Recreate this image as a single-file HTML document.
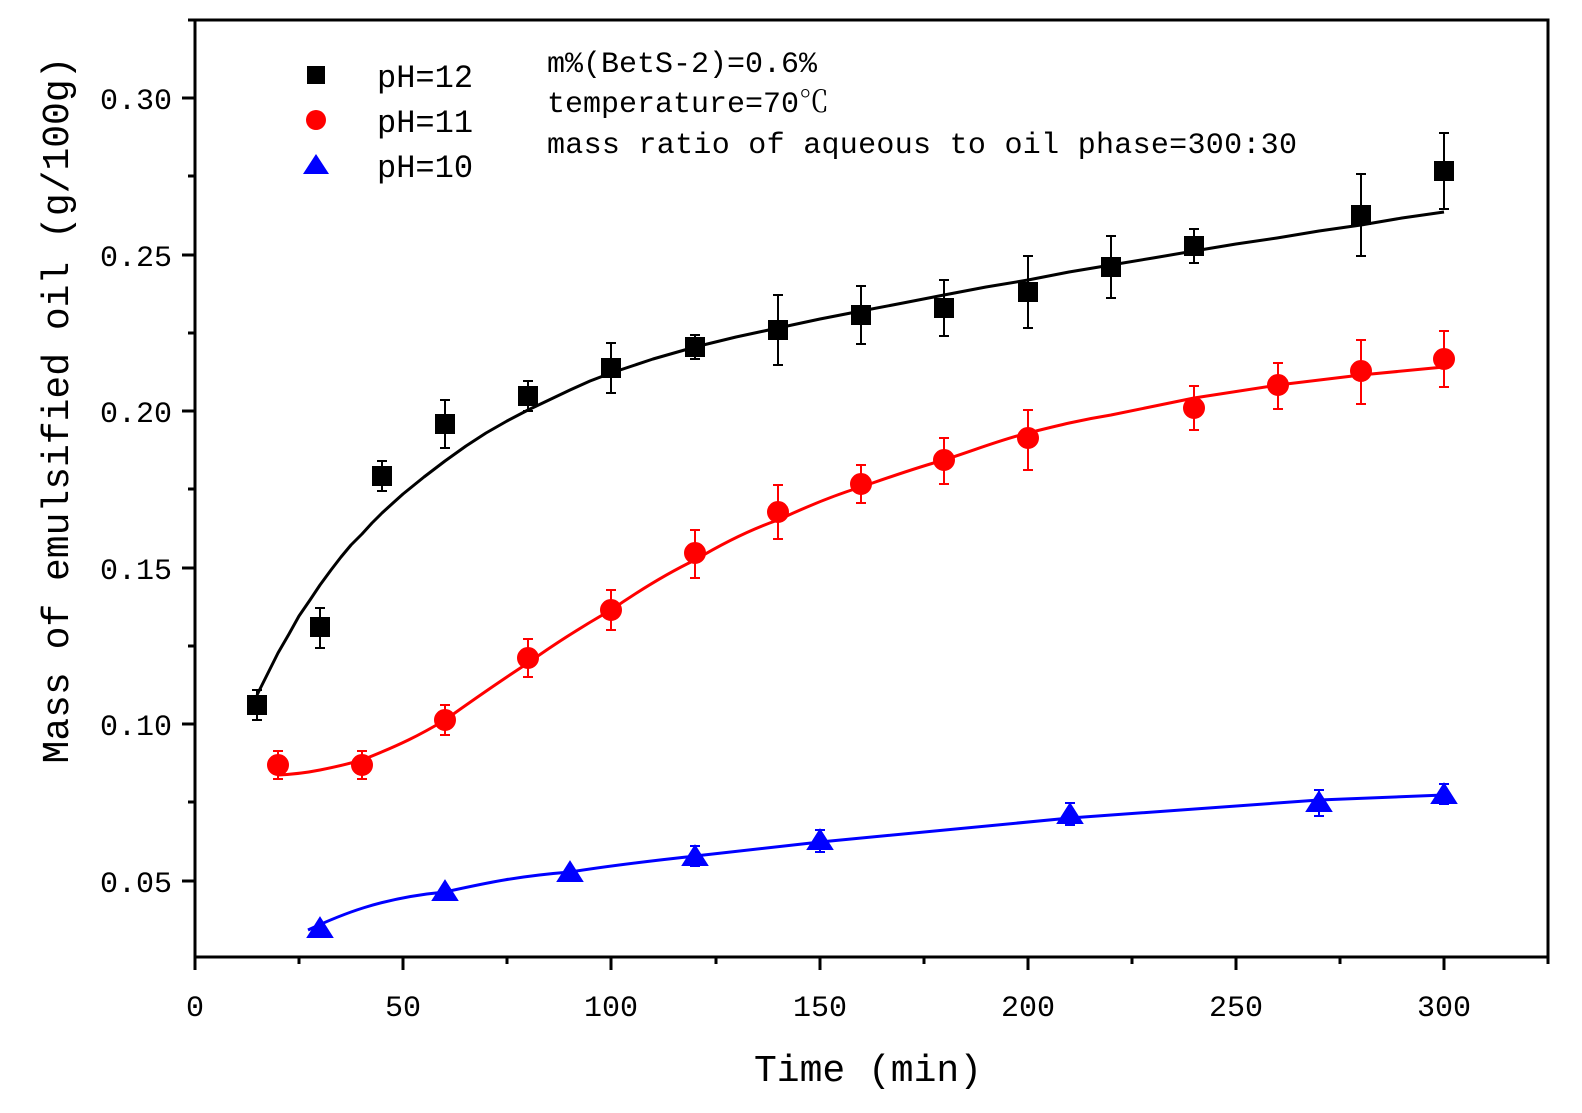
<!DOCTYPE html>
<html><head><meta charset="utf-8"><style>
html,body{margin:0;padding:0;background:#fff;}
svg{display:block;}
text{font-family:"Liberation Mono","Noto Serif CJK SC",monospace;fill:#000;}
</style></head><body>
<svg width="1582" height="1113" viewBox="0 0 1582 1113" xmlns="http://www.w3.org/2000/svg">
<rect x="195" y="20" width="1353" height="937" fill="none" stroke="#000" stroke-width="3"/>
<g stroke="#000" stroke-width="3">
<line x1="195" y1="957" x2="195" y2="970"/><line x1="403" y1="957" x2="403" y2="970"/><line x1="611" y1="957" x2="611" y2="970"/><line x1="820" y1="957" x2="820" y2="970"/><line x1="1028" y1="957" x2="1028" y2="970"/><line x1="1236" y1="957" x2="1236" y2="970"/><line x1="1444" y1="957" x2="1444" y2="970"/>
<line x1="299" y1="957" x2="299" y2="964"/><line x1="507" y1="957" x2="507" y2="964"/><line x1="716" y1="957" x2="716" y2="964"/><line x1="924" y1="957" x2="924" y2="964"/><line x1="1132" y1="957" x2="1132" y2="964"/><line x1="1340" y1="957" x2="1340" y2="964"/><line x1="1548" y1="957" x2="1548" y2="964"/>
<line x1="182" y1="98" x2="195" y2="98"/><line x1="182" y1="255" x2="195" y2="255"/><line x1="182" y1="411" x2="195" y2="411"/><line x1="182" y1="568" x2="195" y2="568"/><line x1="182" y1="724" x2="195" y2="724"/><line x1="182" y1="881" x2="195" y2="881"/>
<line x1="188" y1="20" x2="195" y2="20"/><line x1="188" y1="176" x2="195" y2="176"/><line x1="188" y1="333" x2="195" y2="333"/><line x1="188" y1="489" x2="195" y2="489"/><line x1="188" y1="646" x2="195" y2="646"/><line x1="188" y1="802" x2="195" y2="802"/>
</g>
<g font-size="30" text-anchor="middle">
<text x="195" y="1016">0</text><text x="403" y="1016">50</text><text x="611" y="1016">100</text><text x="820" y="1016">150</text><text x="1028" y="1016">200</text><text x="1236" y="1016">250</text><text x="1444" y="1016">300</text>
</g>
<g font-size="30" text-anchor="end">
<text x="172" y="109">0.30</text><text x="172" y="266">0.25</text><text x="172" y="422">0.20</text><text x="172" y="579">0.15</text><text x="172" y="735">0.10</text><text x="172" y="892">0.05</text>
</g>
<text x="868" y="1081" font-size="38" text-anchor="middle">Time (min)</text>
<text transform="translate(68,410) rotate(-90)" font-size="38" text-anchor="middle">Mass of emulsified oil (g/100g)</text>
<rect x="307" y="66" width="18" height="18" fill="#000"/>
<circle cx="316" cy="120" r="10" fill="#f00"/>
<polygon points="316,154 329,174 303,174" fill="#00f"/>
<g font-size="32"><text x="377" y="87">pH=12</text><text x="377" y="132">pH=11</text><text x="377" y="177">pH=10</text></g>
<g font-size="30"><text x="547" y="72">m%(BetS-2)=0.6%</text><text x="547" y="112">temperature=70℃</text><text x="547" y="153" textLength="750">mass ratio of aqueous to oil phase=300:30</text></g>
<polyline points="257,695 268,673 278,653 289,634 299,616 310,600 320,585 331,570 341,557 351,545 362,534 372,523 382,513 393,503 403,494 424,477 445,461 466,446 486,433 507,421 528,410 549,400 570,390 590,381 611,373 653,359 695,347 736,337 778,328 820,319 861,311 903,303 944,295 986,287 1028,280 1069,272 1111,265 1153,258 1194,251 1236,244 1277,238 1319,231 1361,225 1402,218 1444,212" fill="none" stroke="#000" stroke-width="3" stroke-linejoin="round"/>
<path d="M278,775 C300,774 315,771 320,770 C340,766 355,762 362,760 C400,745 420,735 445,720 C480,695 505,678 528,663 C560,640 590,622 611,610 C640,590 670,572 695,560 C725,542 755,528 778,520 C810,505 835,495 861,487 C890,477 915,468 944,460 C975,450 1000,440 1028,433 C1060,425 1080,420 1111,415 L1194,398 L1278,385 L1361,375 L1444,367" fill="none" stroke="#f00" stroke-width="3"/>
<path d="M308,930 C340,915 380,898 445,892 C490,882 520,876 570,872 C620,864 660,860 695,856 L820,842 L1070,818 L1319,800 L1444,795" fill="none" stroke="#00f" stroke-width="3"/>
<g stroke="#000" stroke-width="2" fill="#000">
<path d="M257,690V720M252,690h10M252,720h10M320,608V648M315,608h10M315,648h10M382,461V491M377,461h10M377,491h10M445,400V448M440,400h10M440,448h10M528,381V411M523,381h10M523,411h10M611,343V393M606,343h10M606,393h10M695,335V359M690,335h10M690,359h10M778,295V365M773,295h10M773,365h10M861,286V344M856,286h10M856,344h10M944,280V336M939,280h10M939,336h10M1028,256V328M1023,256h10M1023,328h10M1111,236V298M1106,236h10M1106,298h10M1194,229V263M1189,229h10M1189,263h10M1361,174V256M1356,174h10M1356,256h10M1444,133V209M1439,133h10M1439,209h10" fill="none"/>
<rect x="248" y="696" width="18" height="18"/><rect x="311" y="618" width="18" height="18"/><rect x="373" y="467" width="18" height="18"/><rect x="436" y="415" width="18" height="18"/><rect x="519" y="387" width="18" height="18"/><rect x="602" y="359" width="18" height="18"/><rect x="686" y="338" width="18" height="18"/><rect x="769" y="321" width="18" height="18"/><rect x="852" y="306" width="18" height="18"/><rect x="935" y="299" width="18" height="18"/><rect x="1019" y="283" width="18" height="18"/><rect x="1102" y="258" width="18" height="18"/><rect x="1185" y="237" width="18" height="18"/><rect x="1352" y="206" width="18" height="18"/><rect x="1435" y="162" width="18" height="18"/>
</g>
<g stroke="#f00" stroke-width="2" fill="#f00">
<path d="M278,751V779M273,751h10M273,779h10M362,751V779M357,751h10M357,779h10M445,705V735M440,705h10M440,735h10M528,639V677M523,639h10M523,677h10M611,590V630M606,590h10M606,630h10M695,530V578M690,530h10M690,578h10M778,485V539M773,485h10M773,539h10M861,465V503M856,465h10M856,503h10M944,438V484M939,438h10M939,484h10M1028,410V470M1023,410h10M1023,470h10M1194,386V430M1189,386h10M1189,430h10M1278,363V409M1273,363h10M1273,409h10M1361,340V404M1356,340h10M1356,404h10M1444,331V387M1439,331h10M1439,387h10" fill="none"/>
<circle cx="278" cy="765" r="10"/><circle cx="362" cy="765" r="10"/><circle cx="445" cy="720" r="10"/><circle cx="528" cy="658" r="10"/><circle cx="611" cy="610" r="10"/><circle cx="695" cy="553" r="10"/><circle cx="778" cy="512" r="10"/><circle cx="861" cy="484" r="10"/><circle cx="944" cy="460" r="10"/><circle cx="1028" cy="438" r="10"/><circle cx="1194" cy="408" r="10"/><circle cx="1278" cy="385" r="10"/><circle cx="1361" cy="371" r="10"/><circle cx="1444" cy="359" r="10"/>
</g>
<g stroke="#00f" stroke-width="2" fill="#00f">
<path d="M695,846V866M690,846h10M690,866h10M820,830V852M815,830h10M815,852h10M1070,803V825M1065,803h10M1065,825h10M1319,790V816M1314,790h10M1314,816h10M1444,784V804M1439,784h10M1439,804h10" fill="none"/>
<polygon points="320,918 332,937 308,937"/><polygon points="445,881 457,900 433,900"/><polygon points="570,862 582,881 558,881"/><polygon points="695,846 707,865 683,865"/><polygon points="820,830 832,849 808,849"/><polygon points="1070,804 1082,823 1058,823"/><polygon points="1319,792 1331,811 1307,811"/><polygon points="1444,784 1456,803 1432,803"/>
</g>
</svg>
</body></html>
